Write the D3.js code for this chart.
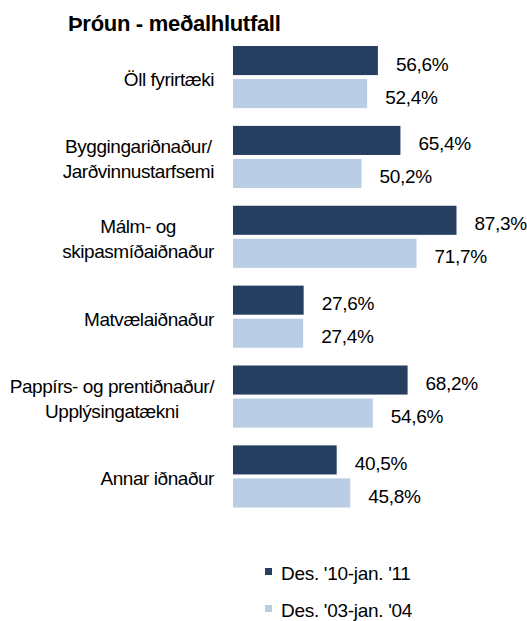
<!DOCTYPE html>
<html>
<head>
<meta charset="utf-8">
<script src="https://cdn.jsdelivr.net/npm/d3@7"></script>
<style>
  html, body { margin: 0; padding: 0; background: #fff; }
  svg { display: block; font-family: "Liberation Sans", Arial, sans-serif; }
</style>
</head>
<body>
<svg id="chart" width="527" height="621"></svg>
<script>
const title = "Þróun - meðalhlutfall";
const categories = [
  ["Öll fyrirtæki"],
  ["Byggingariðnaður/", "Jarðvinnustarfsemi"],
  ["Málm- og", "skipasmíðaiðnaður"],
  ["Matvælaiðnaður"],
  ["Pappírs- og prentiðnaður/", "Upplýsingatækni"],
  ["Annar iðnaður"]
];
const seriesNames = ["Des. '10-jan. '11", "Des. '03-jan. '04"];
const series2011 = [56.6, 65.4, 87.3, 27.6, 68.2, 40.5];
const series2004 = [52.4, 50.2, 71.7, 27.4, 54.6, 45.8];
const colors = ["#263f60", "#b9cde5"];

const svg = d3.select("#chart");
const catKeys = categories.map(c => c.join(" "));
const seriesValues = [series2011, series2004];

const x = d3.scaleLinear().domain([0, 100]).range([233, 489]);
const y = d3.scaleBand().domain(catKeys).range([46, 507.5]).paddingInner(0.222).paddingOuter(0);
const ySub = d3.scaleBand().domain([0, 1]).range([0, y.bandwidth()]).paddingInner(0.12);

const fmt = v => d3.format(".1f")(v).replace(".", ",") + "%";

// title
svg.append("text")
  .attr("x", 68).attr("y", 31)
  .attr("font-size", 22).attr("font-weight", "bold")
  .attr("letter-spacing", "-0.3px")
  .attr("fill", "#000")
  .text(title);

// groups
const groups = svg.selectAll("g.grp").data(catKeys).join("g")
  .attr("class", "grp")
  .attr("transform", d => `translate(0,${y(d)})`);

groups.each(function(key, i) {
  const g = d3.select(this);
  seriesValues.forEach((vals, s) => {
    const v = vals[i];
    g.append("rect")
      .attr("x", x(0))
      .attr("y", ySub(s))
      .attr("width", x(v) - x(0))
      .attr("height", ySub.bandwidth())
      .attr("fill", colors[s]);
    g.append("text")
      .attr("x", x(v) + 18)
      .attr("y", ySub(s) + ySub.bandwidth() / 2 + 10)
      .attr("font-size", 19)
      .attr("letter-spacing", "-0.3px")
      .attr("fill", "#000")
      .text(fmt(v));
  });
});

// category labels: block right-aligned, lines centered within block
const labelRight = 214;
categories.forEach((lines, i) => {
  const cy = y(catKeys[i]) + y.bandwidth() / 2;
  const g = svg.append("g");
  const texts = lines.map((ln, j) => g.append("text")
    .attr("font-size", 19)
    .attr("letter-spacing", "-0.45px")
    .attr("fill", "#000")
    .attr("text-anchor", "middle")
    .attr("y", cy + 9 + (j - (lines.length - 1) / 2) * 25)
    .text(ln));
  const maxW = d3.max(texts, t => t.node().getComputedTextLength());
  texts.forEach(t => t.attr("x", labelRight - maxW / 2));
});

// legend
const legend = svg.append("g").selectAll("g").data(seriesNames).join("g")
  .attr("transform", (d, i) => `translate(265,${568 + i * 37})`);
legend.append("rect").attr("width", 7).attr("height", 7).attr("fill", (d, i) => colors[i]);
legend.append("text")
  .attr("x", 16).attr("y", 12)
  .attr("font-size", 19)
  .attr("letter-spacing", "-0.3px")
  .attr("fill", "#000")
  .text(d => d);
</script>
</body>
</html>
